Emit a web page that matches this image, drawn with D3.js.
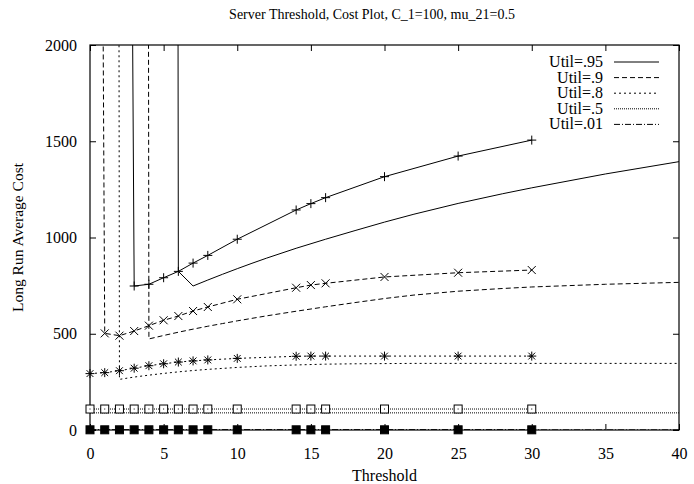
<!DOCTYPE html>
<html>
<head>
<meta charset="utf-8">
<script src="https://cdn.jsdelivr.net/npm/d3@7"></script>
<style>
  body { margin: 0; background: #fff; }
  svg text { font-family: "Liberation Serif", "Times New Roman", serif; fill: #000; }
</style>
</head>
<body>
<div id="chart"></div>
<script>
// simulated points (with markers)
const thresholds = [0, 1, 2, 3, 4, 5, 6, 7, 8, 10, 14, 15, 16, 20, 25, 30]
const cost_95 = [40000, 25000, 13000, 748, 757, 791, 824, 867, 907, 991, 1143, 1176, 1207, 1316, 1423, 1506]
const cost_90 = [15000, 502, 490, 514, 542, 570, 592, 618, 639, 679, 739, 753, 762, 795, 817, 831]
const cost_80 = [293, 298, 308, 321, 334, 344, 353, 359, 364, 372, 383, 384, 384, 384, 384, 384]
const cost_50 = [109, 109, 109, 109, 109, 109, 109, 109, 109, 109, 109, 109, 109, 109, 109, 109]
const cost_01 = [1, 1, 1, 1, 1, 1, 1, 1, 1, 1, 1, 1, 1, 1, 1, 1]

// approximation curves (no markers)
const curve_x = [0, 1, 2, 3, 4, 5, 6, 7, 8, 9, 10, 11, 12, 14, 16, 18, 20, 22, 25, 28, 30, 35, 40]
const curve_95 = [60000, 60000, 60000, 60000, 60000, 60000, 824, 748, 779, 809, 838, 866, 893, 944, 991, 1036, 1080, 1121, 1177, 1227, 1258, 1330, 1394]
const curve_90 = [60000, 60000, 60000, 60000, 473, 491, 508, 524, 539, 553, 567, 580, 593, 617, 640, 662, 683, 701, 721, 735, 743, 757, 767]
const curve_80 = [60000, 60000, 263, 275, 285, 294, 302, 309, 315, 320, 325, 329, 333, 338, 342, 344, 345, 346, 346, 346, 346, 346, 346]
const curve_50 = [89, 89, 89, 89, 89, 89, 89, 89, 89, 89, 89, 89, 89, 89, 89, 89, 89, 89, 89, 89, 89, 89, 89]
const curve_01 = [0.5, 0.5, 0.5, 0.5, 0.5, 0.5, 0.5, 0.5, 0.5, 0.5, 0.5, 0.5, 0.5, 0.5, 0.5, 0.5, 0.5, 0.5, 0.5, 0.5, 0.5, 0.5, 0.5]

const legend_labels = ['Util=.95', 'Util=.9', 'Util=.8', 'Util=.5', 'Util=.01']
const x_ticks = [0, 5, 10, 15, 20, 25, 30, 35, 40]
const y_ticks = [0, 500, 1000, 1500, 2000]

const dashes = ['none', '5,3', '2,3', '1,1', '6,2,1,2']
const markers = ['plus', 'cross', 'star', 'box', 'fbox']

const serif = '"Liberation Serif", "Times New Roman", serif'
const width = 694
const height = 484
const margin = { top: 45, right: 15, bottom: 54, left: 90 }

const svg = d3.select('#chart')
    .append('svg')
    .attr('width', width)
    .attr('height', height)

const x = d3.scaleLinear().domain([0, 40]).range([margin.left, width - margin.right])
const y = d3.scaleLinear().domain([0, 2000]).range([height - margin.bottom, margin.top])

svg.append('clipPath')
    .attr('id', 'plot-clip')
    .append('rect')
    .attr('x', x(0))
    .attr('y', y(2000))
    .attr('width', x(40) - x(0))
    .attr('height', y(0) - y(2000))

// axes, ticks pointing inward on all four sides
const tickLen = 6
svg.append('g')
    .attr('transform', 'translate(0,' + y(0) + ')')
    .call(d3.axisBottom(x).tickValues(x_ticks).tickSize(-tickLen).tickPadding(18).tickFormat(d3.format('d')))
svg.append('g')
    .attr('transform', 'translate(0,' + y(2000) + ')')
    .call(d3.axisTop(x).tickValues(x_ticks).tickSize(-tickLen).tickFormat(''))
svg.append('g')
    .attr('transform', 'translate(' + x(0) + ',0)')
    .call(d3.axisLeft(y).tickValues(y_ticks).tickSize(-tickLen).tickPadding(13).tickFormat(d3.format('d')))
svg.append('g')
    .attr('transform', 'translate(' + x(40) + ',0)')
    .call(d3.axisRight(y).tickValues(y_ticks).tickSize(-tickLen).tickFormat(''))

svg.selectAll('.domain').remove()
svg.selectAll('.tick line').attr('stroke', '#000')
svg.selectAll('g').attr('font-family', serif)
svg.selectAll('.tick text')
    .attr('font-family', serif)
    .attr('font-size', '16px')
    .attr('fill', '#000')

svg.append('rect')
    .attr('x', x(0))
    .attr('y', y(2000))
    .attr('width', x(40) - x(0))
    .attr('height', y(0) - y(2000))
    .attr('fill', 'none')
    .attr('stroke', '#000')
    .attr('stroke-width', 1.2)

// titles
svg.append('text')
    .attr('x', 372)
    .attr('y', 19)
    .attr('text-anchor', 'middle')
    .attr('font-family', serif)
    .attr('font-size', '14px')
    .text('Server Threshold, Cost Plot, C_1=100, mu_21=0.5')

svg.append('text')
    .attr('x', (x(0) + x(40)) / 2)
    .attr('y', 481)
    .attr('text-anchor', 'middle')
    .attr('font-family', serif)
    .attr('font-size', '16px')
    .text('Threshold')

svg.append('text')
    .attr('transform', 'translate(23,' + (y(0) + y(2000)) / 2 + ') rotate(-90)')
    .attr('text-anchor', 'middle')
    .attr('font-family', serif)
    .attr('font-size', '15.5px')
    .text('Long Run Average Cost')

// lines
const plot = svg.append('g').attr('clip-path', 'url(#plot-clip)')

const marker_series = [cost_95, cost_90, cost_80, cost_50, cost_01]
const curve_series = [curve_95, curve_90, curve_80, curve_50, curve_01]

const pointLine = d3.line()
    .x(d => x(d[0]))
    .y(d => y(d[1]))

for (let i = 0; i < curve_series.length; i++) {
    plot.append('path')
        .datum(curve_x.map((t, k) => [t, curve_series[i][k]]))
        .attr('d', pointLine)
        .attr('fill', 'none')
        .attr('stroke', '#000')
        .attr('stroke-width', 1)
        .attr('stroke-dasharray', dashes[i])
}

const markerLayer = svg.append('g')
    .attr('stroke', '#000')
    .attr('stroke-width', 1)

for (let i = 0; i < marker_series.length; i++) {
    const pts = thresholds.map((t, k) => [t, marker_series[i][k]])
    plot.append('path')
        .datum(pts)
        .attr('d', pointLine)
        .attr('fill', 'none')
        .attr('stroke', '#000')
        .attr('stroke-width', 1)
        .attr('stroke-dasharray', dashes[i])

    const visible = pts.filter(d => d[1] <= 2000)
    const m = markers[i]
    visible.forEach(d => {
        const cx = x(d[0])
        const cy = y(d[1])
        const s = 4.5
        if (m === 'plus' || m === 'star') {
            markerLayer.append('path').attr('d', `M${cx - s},${cy}H${cx + s}M${cx},${cy - s}V${cy + s}`)
        }
        if (m === 'cross' || m === 'star') {
            const c = m === 'star' ? 3.4 : 4
            markerLayer.append('path').attr('d', `M${cx - c},${cy - c}L${cx + c},${cy + c}M${cx - c},${cy + c}L${cx + c},${cy - c}`)
        }
        if (m === 'box') {
            markerLayer.append('rect')
                .attr('x', cx - 4).attr('y', cy - 4)
                .attr('width', 8).attr('height', 8)
                .attr('fill', '#fff')
            markerLayer.append('rect')
                .attr('x', cx - 0.5).attr('y', cy - 0.5)
                .attr('width', 1).attr('height', 1)
                .attr('fill', '#000').attr('stroke', 'none')
        }
        if (m === 'fbox') {
            markerLayer.append('rect')
                .attr('x', cx - 4).attr('y', cy - 4)
                .attr('width', 8).attr('height', 8)
                .attr('fill', '#000')
        }
    })
}

// legend
const legend = svg.append('g')
legend_labels.forEach((label, i) => {
    const ly = 62 + i * 15.6
    legend.append('text')
        .attr('x', 603)
        .attr('y', ly + 5)
        .attr('text-anchor', 'end')
        .attr('font-family', serif)
        .attr('font-size', '16px')
        .text(label)
    legend.append('line')
        .attr('x1', 614)
        .attr('x2', 659)
        .attr('y1', ly)
        .attr('y2', ly)
        .attr('stroke', '#000')
        .attr('stroke-width', 1)
        .attr('stroke-dasharray', dashes[i])
})
</script>
</body>
</html>
